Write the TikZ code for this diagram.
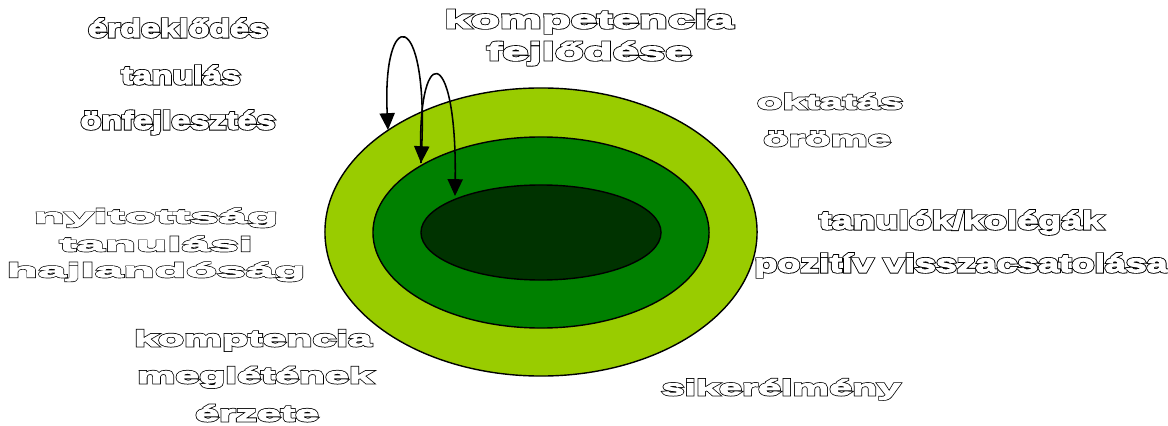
\documentclass[tikz,border=0pt]{standalone}
\usepackage{fontspec}
\usetikzlibrary{arrows.meta,shapes.geometric}
\newfontfamily\fw{Liberation Sans Bold}[FakeBold=5]
\newfontfamily\fb{Liberation Sans Bold}[FakeBold=12]
\definecolor{outerg}{HTML}{99CC00}
\definecolor{midg}{HTML}{008000}
\definecolor{innerg}{HTML}{003300}
\newcommand\ot[2]{\rlap{\color{black}\fb\addfontfeatures{FakeStretch=#1}#2}{\color{white}\fw\addfontfeatures{FakeStretch=#1}#2}}
\tikzset{
  tx/.style={anchor=base, inner sep=0pt, outer sep=0pt},
  fs/.style={font=\fontsize{#1}{#1}\selectfont},
  ring/.style={draw=black, line width=1pt, ellipse, inner sep=0pt, outer sep=0pt},
  loop/.style={line width=1.1pt, draw=black, -{Triangle[width=0.38cm,length=0.42cm]}},
  loopb/.style={line width=1.1pt, draw=black, {Triangle[width=0.38cm,length=0.42cm]}-{Triangle[width=0.38cm,length=0.42cm]}}
}
\begin{document}
\begin{tikzpicture}[x=0.025cm, y=-0.025cm]
\useasboundingbox (0,0) rectangle (1168,426);
% ellipses
\node[ring, fill=outerg, minimum width=10.8cm, minimum height=7.2cm] (o) at (541,232) {};
\node[ring, fill=midg, minimum width=8.4cm, minimum height=4.775cm] (m) at (541,232.5) {};
\node[ring, fill=innerg, minimum width=6cm, minimum height=2.375cm] (i) at (541,232.5) {};
% loop arrows
\coordinate (p1) at (388,130);
\coordinate (p2) at (421,163);
\coordinate (p3) at (455,196);
\draw[loopb] (p2) .. controls (428,6) and (382,6) .. (p1);
\draw[loop] (p2) .. controls (416,41) and (457,41) .. (p3);
% texts
\node[tx, fs=17.8] (a1) at (178,37) {\ot{1.36}{érdeklődés}};
\node[tx, fs=17.8] (a2) at (181,84) {\ot{1.36}{tanulás}};
\node[tx, fs=17.8] (a3) at (178,129) {\ot{1.36}{önfejlesztés}};
\node[tx, fs=17.6] (b1) at (589,28) {\ot{1.91}{kompetencia}};
\node[tx, fs=17.6] (b2) at (589,60) {\ot{1.91}{fejlődése}};
\node[tx, fs=15] (c1) at (830,109) {\ot{1.98}{oktatás}};
\node[tx, fs=15] (c2) at (827,146) {\ot{1.98}{öröme}};
\node[tx, fs=17.8] (d1) at (961,229) {\ot{1.5}{tanulók/kolégák}};
\node[tx, fs=17.8] (d2) at (961,272) {\ot{1.5}{pozitív visszacsatolása}};
\node[tx, fs=13.9] (e1) at (156,223) {\ot{2.62}{nyitottság}};
\node[tx, fs=13.9] (e2) at (156,251) {\ot{2.62}{tanulási}};
\node[tx, fs=13.9] (e3) at (156,277) {\ot{2.62}{hajlandóság}};
\node[tx, fs=15.6] (f1) at (253,346) {\ot{1.95}{komptencia}};
\node[tx, fs=15.6] (f2) at (255,383) {\ot{1.95}{meglétének}};
\node[tx, fs=15.6] (f3) at (257,421) {\ot{1.95}{érzete}};
\node[tx, fs=15.3] (g1) at (781,395) {\ot{1.92}{sikerélmény}};
\end{tikzpicture}
\end{document}
